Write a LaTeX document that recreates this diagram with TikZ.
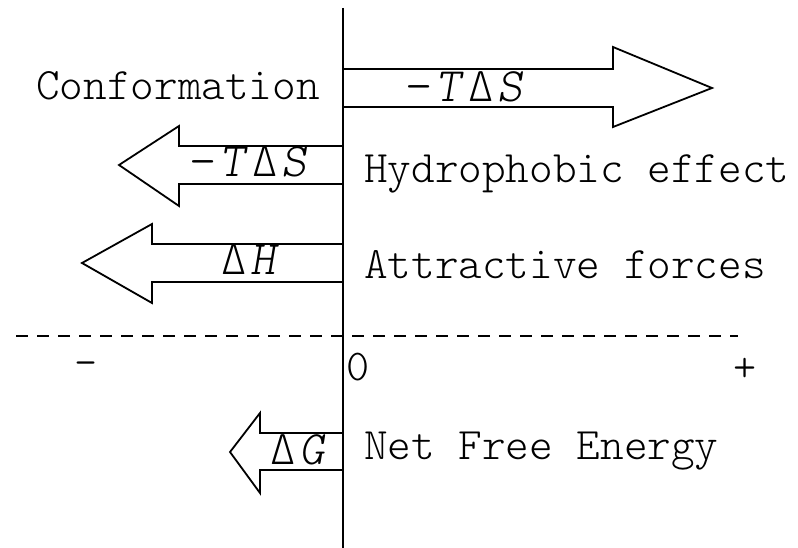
\documentclass[tikz,border=0pt]{standalone}
\usepackage{fontspec}
\newfontfamily\thinmono{Latin Modern Mono Light}
% slanted symbol with a little extra room on its left
\newcommand{\qsym}[1]{\kern4pt\textsl{#1}}
\begin{document}
\begin{tikzpicture}[x=1pt,y=-1pt,
  lbl/.style={font=\thinmono\fontsize{45}{47}\selectfont, inner sep=0pt, anchor=base west},
  qty/.style={font=\thinmono\fontsize{48}{50}\selectfont, inner sep=0pt, anchor=base west},
  tick/.style={font=\thinmono\fontsize{44}{46}\selectfont, inner sep=0pt},
  fatarrow/.style={line width=1.8pt, line join=miter, fill=white},
  axisline/.style={line width=1.4pt}]
\useasboundingbox (0,0) rectangle (798,548);
% conformation: -T dS, points right
\draw[fatarrow] (343,69) -- (613,69) -- (613,47) -- (712,88) -- (613,127) -- (613,107) -- (343,107);
\node[qty] (confq) at (406,102) {−\qsym{T}\kern4ptΔ\qsym{S}};
\node[lbl, anchor=base east] (conf) at (320,100) {Conformation};
% hydrophobic effect: -T dS, points left
\draw[fatarrow] (343,146) -- (179,146) -- (179,126) -- (119,165) -- (179,206) -- (179,184) -- (343,184);
\node[qty] (hydq) at (190,177) {−\qsym{T}\kern4ptΔ\qsym{S}};
\node[lbl] (hyd) at (364,183) {Hydrophobic effect};
% attractive forces: dH, points left
\draw[fatarrow] (343,244) -- (152,244) -- (152,224) -- (82,263) -- (152,303) -- (152,282) -- (343,282);
\node[qty] (attq) at (221,274) {Δ\qsym{H}};
\node[lbl] (att) at (364,279) {Attractive forces};
% net free energy: dG, points left
\draw[fatarrow] (343,433) -- (260,433) -- (260,413) -- (230,452) -- (260,493) -- (260,470) -- (343,470);
\node[qty] (netq) at (270,464) {Δ\qsym{G}};
\node[lbl] (net) at (364,459) {Net Free Energy};
% zero level with its scale marks
\coordinate (dl) at (16,336);
\coordinate (dr) at (738,336);
\draw[line width=2.2pt, dash pattern=on 12pt off 9pt] (dl) -- (dr);
\node[tick] (minus) at (86,369) {-};
\node[tick, anchor=base west] (zero) at (346,380) {0};
\node[tick] (plus) at (745,370) {+};
% vertical zero axis, on top of the arrow shafts
\coordinate (top) at (343,8);
\coordinate (bot) at (343,548);
\draw[axisline] (top) -- (bot);
\end{tikzpicture}
\end{document}
